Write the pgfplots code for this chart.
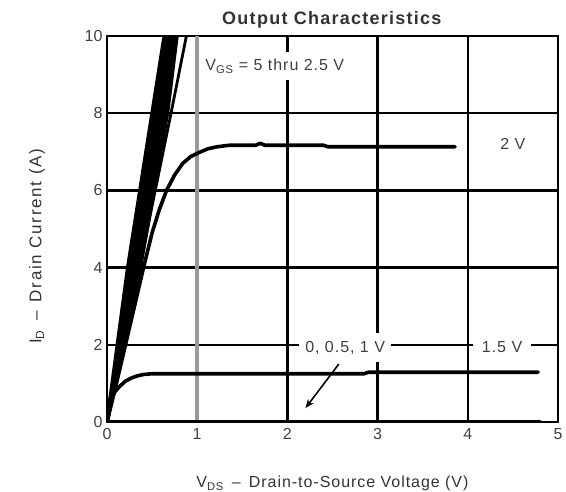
\documentclass[border=0pt]{standalone}
\usepackage{pgfplots}
\pgfplotsset{compat=1.18}
\usetikzlibrary{arrows.meta}
\usepackage{fontspec}
\setmainfont{Liberation Sans}
\tikzset{
  lab/.style={fill=white, text=black!75, font=\fontsize{16}{18}\selectfont\addfontfeatures{LetterSpace=6}},
}
\pgfplotsset{
  crv/.style={black, mark=none, line width=3.6pt, line join=round, line cap=round},
}
\begin{document}
\begin{tikzpicture}
\path[use as bounding box] (-107pt,-70pt) rectangle (459pt,422pt);
\begin{axis}[
  scale only axis, width=451pt, height=386pt,
  xmin=0, xmax=5, ymin=0, ymax=10,
  xtick={0,2,3,4,5}, ytick={0,2,4,6,8,10},
  extra x ticks={1},
  extra x tick style={grid=major, major grid style={draw=black!40, line width=3.4pt}},
  xmajorgrids, ymajorgrids,
  major grid style={draw=black, line width=2.5pt},
  tick style={draw=none},
  axis line style={line width=2.6pt},
  /pgf/number format/assume math mode=true,
  tick label style={font=\fontsize{16}{18}\selectfont, text=black!75},
  xticklabel style={yshift=-3pt},
  yticklabel style={xshift=-1pt},
  title={\addfontfeatures{LetterSpace=7}\textbf{Output Characteristics}},
  title style={font=\fontsize{18}{20}\selectfont, text=black!80, at={(axis description cs:0.5,1.027)}, anchor=center},
  xlabel={\addfontfeatures{LetterSpace=6}V\textsubscript{DS} \,--\, Drain-to-Source Voltage (V)},
  xlabel style={font=\fontsize{16}{18}\selectfont, text=black!80, at={(axis description cs:0.5,-0.16)}, anchor=center},
  ylabel={\addfontfeatures{LetterSpace=10}I\textsubscript{D} \,--\, Drain Current (A)},
  ylabel style={font=\fontsize{17}{19}\selectfont, text=black!80, at={(axis description cs:-0.155,0.455)}, anchor=center},
]
% V_GS = 5 thru 2.5 V bundle
\addplot[crv] coordinates {(0,0) (0.23,4) (0.5,8) (0.635,10)};
\addplot[crv] coordinates {(0,0) (0.26,4) (0.53,8) (0.66,10)};
\addplot[crv] coordinates {(0,0) (0.29,4) (0.56,8) (0.685,10)};
\addplot[crv] coordinates {(0,0) (0.32,4) (0.59,8) (0.71,10)};
\addplot[crv] coordinates {(0,0) (0.34,4) (0.62,8) (0.735,10)};
\addplot[crv] coordinates {(0,0) (0.36,4) (0.65,8) (0.76,10)};
\addplot[crv] coordinates {(0,0) (0.37,4) (0.67,8) (0.775,10)};
\addplot[crv, line width=2.8pt] coordinates {(0,0) (0.36,4) (0.71,8) (0.88,10)};
% 2 V
\addplot[crv] coordinates {(0,0) (0.1,0.95) (0.2,1.95) (0.3,2.95) (0.4,3.95) (0.5,4.9) (0.58,5.5) (0.66,6.0) (0.75,6.4) (0.84,6.7) (0.93,6.88) (1.03,6.99) (1.12,7.08) (1.22,7.13) (1.36,7.17) (1.65,7.17) (1.7,7.22) (1.75,7.17) (2.4,7.17) (2.45,7.13) (3.86,7.13)};
% 1.5 V
\addplot[crv] coordinates {(0,0) (0.03,0.57) (0.08,0.76) (0.14,0.92) (0.2,1.05) (0.26,1.13) (0.33,1.19) (0.4,1.23) (0.5,1.25) (2.85,1.25) (2.9,1.29) (4.78,1.29)};
% 0, 0.5, 1 V
\addplot[crv] coordinates {(0,0) (4.8,0)};
% labels
\node[lab, inner xsep=3pt, inner ysep=7pt] at (axis cs:1.86,9.22) {V\textsubscript{GS} = 5 thru 2.5 V};
\node[lab] at (axis cs:4.5,7.2) {2 V};
\node[lab, inner xsep=6pt, inner ysep=8pt] at (axis cs:2.64,1.93) {0, 0.5, 1 V};
\node[lab, inner xsep=9pt, inner ysep=8pt] at (axis cs:4.38,1.93) {1.5 V};
\draw[-{Stealth[length=9pt,width=7pt]}, line width=1.6pt] (axis cs:2.57,1.5) -- (axis cs:2.2,0.36);
\end{axis}
\end{tikzpicture}
\end{document}
